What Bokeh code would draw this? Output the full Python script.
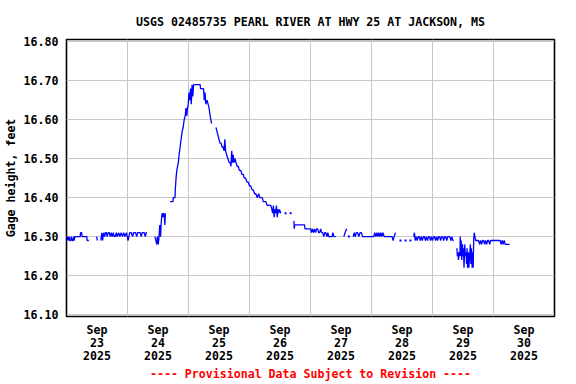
import numpy as np
from bokeh.plotting import figure
from bokeh.models import FixedTicker, ColumnDataSource, Range1d, PrintfTickFormatter
from bokeh.embed import file_html
from bokeh.resources import INLINE

title_text = "USGS 02485735 PEARL RIVER AT HWY 25 AT JACKSON, MS"
y_label_text = "Gage height, feet"
note_text = "---- Provisional Data Subject to Revision ----"

# x axis: hours since 2025-09-23 00:00
day_labels = ["Sep\n23\n2025", "Sep\n24\n2025", "Sep\n25\n2025", "Sep\n26\n2025",
              "Sep\n27\n2025", "Sep\n28\n2025", "Sep\n29\n2025", "Sep\n30\n2025"]
label_hours = [12, 36, 60, 84, 108, 132, 156, 180]
grid_hours = [24, 48, 72, 96, 120, 144, 168]
y_ticks = [16.10, 16.20, 16.30, 16.40, 16.50, 16.60, 16.70, 16.80]

# gage height series (None = gap in record)
hours = [
    0, 0.25, 0.5, 0.75, 1.0, 1.3, 1.6, 1.9, 2.2, 2.5, 2.8, 3.0, 3.3, 5.4, 5.5, 6.0, 6.1, 8.0, 8.1, 8.8, None,
    11.9, 12.1, None,
    13.5, 13.9, 14.2, 14.6, 15.0, 15.3, 15.7, 16.0, 16.4, 16.8,
    17.2, 17.6, 18.0, 18.4, 18.8, 19.2, 19.6, 20.0, 20.5, 21.0,
    21.5, 22.0, 22.5, 23.0, 23.6, 24.2, 24.9, 25.5, 26.0, 26.4,
    27.2, 27.6, 28.0, 29.0, 29.4, 29.8, 30.6, 31.0, 31.4, 31.7, None,
    34.8, 35.2, 35.5, 35.8, 36.1, 36.4, 36.7, 37.0, 37.3, 37.6, 37.9, 38.2, 38.5, 38.7, 38.9, None,
    40.8, 41.9, 42.0, 42.7, 42.8, 43.1, 43.4, 43.7, 44.0, 44.3,
    44.7, 45.1, 45.5, 45.9, 46.3, 46.7, 47.0, 47.3, 47.6, 47.9,
    48.2, 48.5, 48.8, 49.1, 49.4, 49.7, 50.0, 52.6, 52.7, 53.9,
    54.2, 54.5, 54.8, 55.3, 55.7, 56.1, 56.5, 57.1, None,
    58.8, 59.2, 59.6, 60.0, 60.4, 60.8, 61.2, 61.6, 62.0, 62.3,
    62.6, 63.0, 63.5, 64.0, 64.4, 64.7, 65.0, 65.3, 65.6, 65.9,
    66.3, 66.7, 67.2, 67.6, 68.0, 68.6, 69.0, 69.5, 70.0, 70.5,
    71.0, 71.5, 72.0, 72.5, 73.0, 73.5, 74.0, 74.5, 75.0, 75.6,
    76.0, 76.5, 77.0, 77.4, 78.0, 78.4, 79.0, 79.5, 80.0, 80.4,
    80.8, 81.1, 81.4, 81.7, 82.0, 82.3, 82.6, 82.9, 83.2, 83.5,
    83.8, 84.3, None,
    89.5, 89.6, 89.8, 93.7, 93.8, 96.1, 96.4, 96.8, 97.2, 97.6,
    98.0, 98.4, 98.8, 99.2, 99.6, 100.0, 100.4, 100.8, 101.2, 101.6,
    102.0, 102.4, 102.8, 103.2, 104.5, 104.8, 105.2, 105.9, None,
    109.1, 109.6, 110.2, None,
    112.8, 113.2, 113.6, 114.0, 114.5, 115.0, 115.5, 116.0, 116.5, 117.3,
    120.9, 121.3, 121.7, 122.1, 122.5, 122.9, 123.3, 123.7, 124.1, 124.5,
    125.0, 128.1, 128.5, 128.9, 129.4, None,
    136.6, 136.9, 137.2, 137.6, 138.0, 138.4, 138.8, 139.2, 139.6, 140.0,
    140.4, 140.8, 141.2, 141.6, 142.0, 142.4, 142.8, 143.2, 143.6, 144.0,
    144.4, 144.8, 145.2, 145.6, 146.0, 146.4, 146.8, 147.2, 147.6, 148.0,
    148.4, 148.8, 149.2, 149.6, 150.0, 150.4, 150.8, 151.2, 151.6, 152.0,
    152.3, None,
    153.6, 153.8, 154.0, 154.2, 154.6, 154.8, 154.9, 155.1, 155.3, 155.5,
    155.8, 156.0, 156.2, 156.4, 156.7, 156.9, 157.2, 157.4, 157.6, 157.8,
    158.1, 158.3, 158.6, 158.9, 159.1, 159.3, 159.6, 159.9, 160.0, 160.2,
    160.4, 160.7, 161.0, 162.1, 162.5, 162.9, 163.3, 163.7, 164.1, 164.5,
    164.9, 165.3, 165.7, 166.1, 166.5, 166.9, 167.4, 170.6, 171.0, 171.4,
    171.8, 172.2, 172.6, 174.3,
]
gage_ft = [
    16.30, 16.29, 16.30, 16.29, 16.30, 16.29, 16.29, 16.30, 16.29, 16.29, 16.30, 16.29, 16.30, 16.30, 16.31, 16.31, 16.30, 16.30, 16.29, 16.29, None,
    16.30, 16.29, None,
    16.29, 16.31, 16.29, 16.31, 16.30, 16.31, 16.31, 16.30, 16.31, 16.31,
    16.30, 16.31, 16.30, 16.31, 16.30, 16.30, 16.31, 16.30, 16.31, 16.30,
    16.31, 16.30, 16.31, 16.30, 16.31, 16.29, 16.31, 16.31, 16.30, 16.31,
    16.31, 16.30, 16.31, 16.31, 16.30, 16.31, 16.31, 16.30, 16.31, 16.31, None,
    16.30, 16.29, 16.28, 16.30, 16.28, 16.30, 16.33, 16.30, 16.34, 16.36, 16.35, 16.36, 16.35, 16.33, 16.36, None,
    16.39, 16.39, 16.40, 16.40, 16.42, 16.45, 16.47, 16.48, 16.49, 16.51,
    16.53, 16.55, 16.57, 16.58, 16.60, 16.61, 16.63, 16.61, 16.63, 16.64,
    16.67, 16.65, 16.68, 16.64, 16.69, 16.66, 16.69, 16.69, 16.68, 16.68,
    16.65, 16.67, 16.64, 16.65, 16.64, 16.63, 16.61, 16.59, None,
    16.58, 16.57, 16.56, 16.55, 16.54, 16.54, 16.53, 16.53, 16.52, 16.55,
    16.52, 16.51, 16.50, 16.49, 16.49, 16.48, 16.52, 16.49, 16.51, 16.49,
    16.50, 16.49, 16.48, 16.48, 16.47, 16.47, 16.46, 16.46, 16.45, 16.45,
    16.44, 16.44, 16.43, 16.43, 16.42, 16.42, 16.41, 16.41, 16.40, 16.41,
    16.40, 16.40, 16.40, 16.39, 16.39, 16.39, 16.38, 16.38, 16.38, 16.38,
    16.37, 16.36, 16.38, 16.35, 16.37, 16.36, 16.38, 16.35, 16.37, 16.36,
    16.37, 16.36, None,
    16.34, 16.32, 16.33, 16.33, 16.32, 16.32, 16.31, 16.32, 16.31, 16.32,
    16.31, 16.32, 16.32, 16.31, 16.31, 16.32, 16.31, 16.31, 16.30, 16.31,
    16.31, 16.30, 16.31, 16.30, 16.30, 16.31, 16.30, 16.30, None,
    16.30, 16.31, 16.32, None,
    16.30, 16.31, 16.30, 16.31, 16.31, 16.30, 16.31, 16.31, 16.30, 16.30,
    16.30, 16.31, 16.30, 16.31, 16.30, 16.31, 16.30, 16.31, 16.30, 16.31,
    16.30, 16.30, 16.29, 16.30, 16.31, None,
    16.30, 16.31, 16.29, 16.30, 16.29, 16.30, 16.30, 16.29, 16.30, 16.29,
    16.30, 16.30, 16.29, 16.30, 16.29, 16.30, 16.30, 16.29, 16.30, 16.29,
    16.30, 16.30, 16.29, 16.30, 16.29, 16.30, 16.30, 16.29, 16.30, 16.30,
    16.29, 16.30, 16.30, 16.29, 16.30, 16.30, 16.30, 16.29, 16.30, 16.29,
    16.29, None,
    16.27, 16.25, 16.26, 16.24, 16.26, 16.25, 16.30, 16.25, 16.29, 16.24,
    16.28, 16.25, 16.27, 16.22, 16.28, 16.25, 16.26, 16.23, 16.27, 16.22,
    16.26, 16.22, 16.25, 16.28, 16.23, 16.27, 16.22, 16.26, 16.22, 16.29,
    16.31, 16.30, 16.29, 16.29, 16.28, 16.29, 16.28, 16.29, 16.29, 16.28,
    16.29, 16.28, 16.29, 16.29, 16.28, 16.29, 16.29, 16.29, 16.28, 16.29,
    16.28, 16.29, 16.28, 16.28,
]

# isolated readings
dot_hours = [86.2, 88.2, 111.1, 131.4, 133.4, 135.3]
dot_ft = [16.36, 16.36, 16.30, 16.29, 16.29, 16.29]

assert len(hours) == len(gage_ft)

FONT = "DejaVu Sans Mono"
FSIZE = "11.6px"

p = figure(width=576, height=384, output_backend="svg", toolbar_location=None,
           x_range=Range1d(0, 192), y_range=Range1d(16.0949, 16.806),
           min_border_left=65, min_border_right=22, min_border_top=39, min_border_bottom=68,
           background_fill_color="white", border_fill_color="white")

p.title.text = title_text
p.title.align = "center"
p.title.text_font = FONT
p.title.text_font_style = "bold"
p.title.text_font_size = FSIZE
p.title.text_color = "black"
p.title.standoff = 22

p.outline_line_color = "black"
p.outline_line_width = 1.6
p.outline_line_alpha = 1.0

for ax in (p.xaxis, p.yaxis):
    ax.axis_line_color = None
    ax.major_tick_line_color = None
    ax.minor_tick_line_color = None
    ax.major_tick_out = 0
    ax.major_tick_in = 0
    ax.minor_tick_out = 0
    ax.minor_tick_in = 0
    ax.major_label_text_font = FONT
    ax.major_label_text_font_style = "bold"
    ax.major_label_text_font_size = FSIZE
    ax.major_label_text_color = "black"
    ax.axis_label_text_font = FONT
    ax.axis_label_text_font_style = "bold"
    ax.axis_label_text_font_size = FSIZE

p.xaxis.ticker = FixedTicker(ticks=label_hours)
p.xaxis.major_label_overrides = {h: lab for h, lab in zip(label_hours, day_labels)}
p.xaxis.major_label_text_line_height = 0.95
p.xaxis.major_label_standoff = 6
p.xaxis.axis_label = note_text
p.xaxis.axis_label_text_color = "#ff0000"
p.xaxis.axis_label_standoff = 1

p.yaxis.ticker = FixedTicker(ticks=y_ticks)
p.yaxis.formatter = PrintfTickFormatter(format="%.2f")
p.yaxis.major_label_standoff = 8
p.yaxis.axis_label = y_label_text
p.yaxis.axis_label_text_color = "black"
p.yaxis.axis_label_standoff = 3

p.xgrid.ticker = FixedTicker(ticks=grid_hours)
p.xgrid.grid_line_color = "#c8c8c8"
p.ygrid.grid_line_color = "#c8c8c8"
p.xgrid.grid_line_width = 1
p.ygrid.grid_line_width = 1

src = ColumnDataSource(dict(h=np.array(hours, dtype=float), ft=np.array(gage_ft, dtype=float)))
p.line(x="h", y="ft", source=src, line_color="#0000ff", line_width=1.3)
p.scatter(x=dot_hours, y=dot_ft, marker="square", size=2, fill_color="#0000ff", line_color=None)

open("out.html", "w").write(file_html(p, INLINE))
